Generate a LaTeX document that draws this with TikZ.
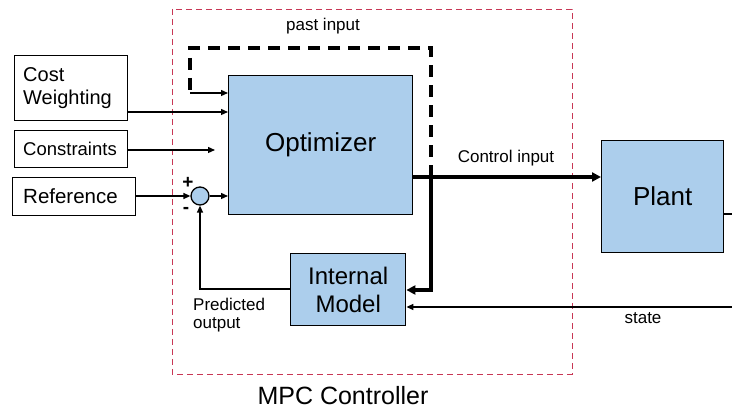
\documentclass[tikz,border=0pt]{standalone}
\usepackage{fontspec}
\setmainfont{Liberation Sans}
\usetikzlibrary{arrows.meta}
\definecolor{boxblue}{RGB}{172,206,236}
\definecolor{mpcred}{RGB}{200,55,85}
\tikzset{
  x=1pt,y=-1pt,
  blk/.style={draw,line width=1.4pt,fill=boxblue,inner sep=0pt,anchor=north west},
  inbox/.style={draw,line width=1.4pt,fill=white,inner sep=0pt,anchor=north west,align=left},
  sig/.style={line width=1.3pt,-{Triangle[length=7pt,width=6pt]}},
  thk/.style={line width=3.2pt},
  lbl/.style={font=\fontsize{17}{18}\selectfont,inner sep=0pt},
}
\begin{document}
\begin{tikzpicture}
\useasboundingbox (0,0) rectangle (732,411);
% MPC controller frame
\draw[mpcred,line width=0.9pt,dash pattern=on 6pt off 4pt] (172,9) rectangle (572,374);
\node[font=\fontsize{25}{26}\selectfont,inner sep=0pt] (mpc) at (343,396) {MPC Controller};

% blocks
\node[blk,minimum width=184pt,minimum height=139pt] (opt) at (228,75) {};
\node[font=\fontsize{26}{28}\selectfont] at (opt.center) {Optimizer};
\node[blk,minimum width=122pt,minimum height=112pt,font=\fontsize{26}{28}\selectfont] (plant) at (601,140) {Plant};
\node[blk,minimum width=115pt,minimum height=72pt,align=center,font=\fontsize{24}{28}\selectfont] (im) at (290,253) {Internal\\Model};

% inputs
\node[inbox,minimum width=113pt,minimum height=65pt] (cost) at (14,55) {};
\node[align=left,anchor=west,font=\fontsize{20}{23}\selectfont,inner sep=0pt] at (23,88) {Cost\\Weighting};
\node[inbox,minimum width=113pt,minimum height=37pt] (con) at (14,130) {};
\node[anchor=west,font=\fontsize{18.5}{20}\selectfont,inner sep=0pt] at (23,148.5) {Constraints};
\node[inbox,minimum width=123pt,minimum height=38pt] (ref) at (12,177) {};
\node[anchor=west,font=\fontsize{20.5}{22}\selectfont,inner sep=0pt] at (23,196) {Reference};

% summing junction
\node[draw,circle,line width=1.3pt,fill=boxblue,minimum size=18pt,inner sep=0pt] (sum) at (200,196) {};
\node[font=\fontsize{19}{19}\selectfont\bfseries,inner sep=0pt] at (188,183) {+};
\node[font=\fontsize{19}{19}\selectfont\bfseries,inner sep=0pt] at (186,210) {-};

% coordinates
\coordinate (conend) at (215,150);
\coordinate (br) at (431,177);
\coordinate (pa) at (431,48);
\coordinate (pb) at (190,48);
\coordinate (pc) at (190,93);
\coordinate (fb) at (200,289);
\coordinate (pout) at (732,214);
\coordinate (sin) at (732,307);

% connectors
\draw[sig] (cost.east |- 0,112) -- (opt.west |- 0,112);
\draw[sig] (con.east |- 0,150) -- (conend);
\draw[sig] (ref.east |- sum) -- (sum.west);
\draw[sig] (sum.east) -- (opt.west |- sum);
\draw[sig] (im.west |- fb) -- (fb) -- (sum.south);
\draw[thk,dash pattern=on 12pt off 8pt] (br) -- (pa) -- (pb) -- (pc);
\draw[sig] (pc) -- (opt.west |- pc);
\draw[thk,-{Triangle[length=9pt,width=9pt]}] (opt.east |- br) -- (plant.west |- br);
\draw[thk,-{Triangle[length=9pt,width=9pt]}] (br) -- (431,290) -- (im.east |- 0,290);
\draw[line width=1.3pt] (plant.east |- pout) -- (pout);
\draw[sig] (sin) -- (im.east |- sin);

% labels
\node[lbl] at (323,26) {past input};
\node[lbl] at (506,158) {Control input};
\node[lbl,align=left,anchor=north west] at (193,298) {Predicted\\output};
\node[lbl] at (643,318) {state};
\end{tikzpicture}
\end{document}
